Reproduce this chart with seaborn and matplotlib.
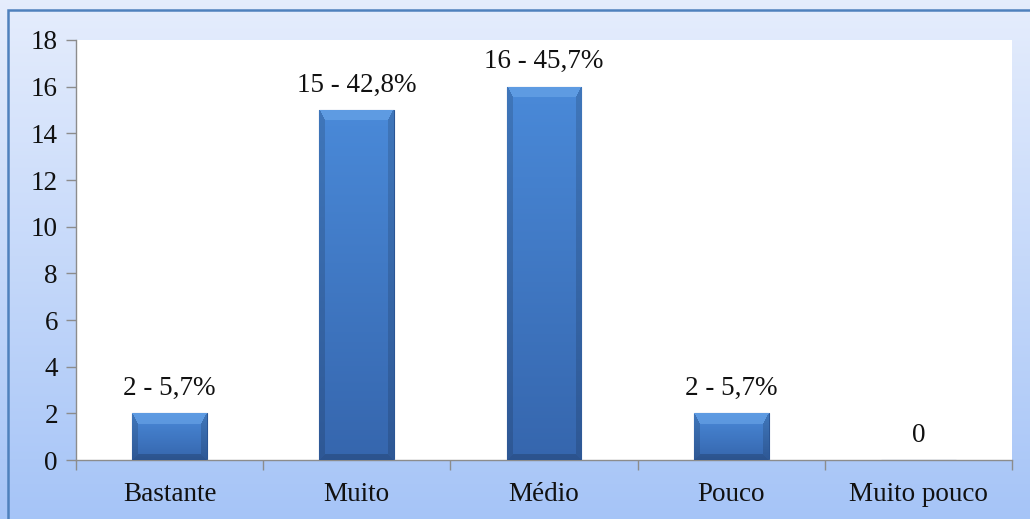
import numpy as np
import matplotlib
matplotlib.use("Agg")
import matplotlib.pyplot as plt
import seaborn as sns
from matplotlib.patches import Rectangle

categories = ["Bastante", "Muito", "Médio", "Pouco", "Muito pouco"]
counts = [2, 15, 16, 2, 0]
labels = ["2 - 5,7%", "15 - 42,8%", "16 - 45,7%", "2 - 5,7%", "0"]
yticks = [0, 2, 4, 6, 8, 10, 12, 14, 16, 18]

sns.set_theme(style="white")
plt.rcParams["font.family"] = ["Liberation Serif", "DejaVu Serif"]

W, H, DPI = 1030, 519, 100
FS = 19.5
fig = plt.figure(figsize=(W / DPI, H / DPI), dpi=DPI)

# background: vertical gradient from pale to light blue
bg = fig.add_axes([0, 0, 1, 1], zorder=-10)
grad = np.linspace(0, 1, 256)[:, None]
top_c = np.array([0.90, 0.93, 0.99])
bot_c = np.array([0.65, 0.77, 0.97])
img = top_c * (1 - grad[..., None]) + bot_c * grad[..., None]
img = np.repeat(img, 2, axis=1)
bg.imshow(img, aspect="auto", extent=[0, 1, 0, 1], origin="upper")
bg.set_axis_off()
fig.add_artist(Rectangle((8 / W, -0.05), 1.2, 1 - 10 / H + 0.05,
                         transform=fig.transFigure, fill=False,
                         edgecolor="#4f81bd", linewidth=1.8, zorder=-5))

ax = fig.add_axes([76 / W, 1 - 460 / H, (1012 - 76) / W, (460 - 40) / H])
ax.set_facecolor("white")

sns.barplot(x=categories, y=counts, ax=ax, width=0.4, color="#3b7bd0",
            edgecolor="#2a5594", linewidth=0.8, zorder=2)

ax.set_ylim(0, 18)
ax.set_xlim(-0.5, 4.5)


def bevel_image(hpx, wpx):
    """Pixel image of a bevelled bar face."""
    yy, xx = np.mgrid[0:hpx, 0:wpx].astype(float)
    t = yy / max(hpx - 1, 1)
    body_top = np.array([0.29, 0.54, 0.85])
    body_bot = np.array([0.21, 0.40, 0.68])
    arr = body_top * (1 - t[..., None]) + body_bot * t[..., None]
    dt, db = yy, hpx - 1 - yy
    dl, dr = xx, wpx - 1 - xx
    bt, bs, bb = 11.0, 6.0, 6.0
    # normalised distances to decide which bevel face a pixel belongs to
    nt, nl, nr, nb = dt / bt, dl / bs, dr / bs, db / bb
    m = np.minimum.reduce([nt, nl, nr, nb])
    top_face = (nt == m) & (nt < 1)
    side_face = ((nl == m) | (nr == m)) & (m < 1) & ~top_face
    bot_face = (nb == m) & (nb < 1) & ~top_face & ~side_face
    light = np.array([0.45, 0.68, 0.93])
    arr[top_face] = arr[top_face] * 0.5 + light * 0.5
    arr[side_face] = arr[side_face] * 0.86
    arr[bot_face] = arr[bot_face] * 0.82
    return np.clip(arr, 0, 1)


ax_h_px = 460 - 40
for patch, v in zip(ax.patches, counts):
    if v <= 0:
        continue
    x0, w = patch.get_x(), patch.get_width()
    hpx = max(int(round(v / 18 * ax_h_px)), 2)
    wpx = int(round(w / 5 * (1012 - 76)))
    im = ax.imshow(bevel_image(hpx, wpx), extent=[x0, x0 + w, 0, v],
                   aspect="auto", origin="upper", zorder=3,
                   interpolation="bilinear")
    im.set_clip_path(patch)

ax.set_xlim(-0.5, 4.5)
ax.set_ylim(0, 18)

for i, (v, lab) in enumerate(zip(counts, labels)):
    ax.annotate(lab, (i, v), xytext=(0, 9), textcoords="offset points",
                ha="center", va="bottom", fontsize=FS, color="#111111")

ax.set_yticks(yticks)
ax.set_yticklabels([str(t) for t in yticks], fontsize=FS, color="#111111")
ax.set_xticks(range(len(categories)))
ax.set_xticklabels(categories, fontsize=FS, color="#111111")
ax.set_xticks(np.arange(-0.5, 5, 1), minor=True)
ax.tick_params(axis="x", which="major", length=0, pad=16)
ax.tick_params(axis="x", which="minor", length=7, width=1, color="#8c8c8c",
               direction="out", bottom=True)
ax.tick_params(axis="y", length=7, width=1, color="#8c8c8c", direction="out",
               left=True, pad=6)
ax.set_xlabel("")
ax.set_ylabel("")

for s in ["top", "right"]:
    ax.spines[s].set_visible(False)
for s in ["left", "bottom"]:
    ax.spines[s].set_color("#8c8c8c")
    ax.spines[s].set_linewidth(1)

fig.savefig("out.png", dpi=DPI)
